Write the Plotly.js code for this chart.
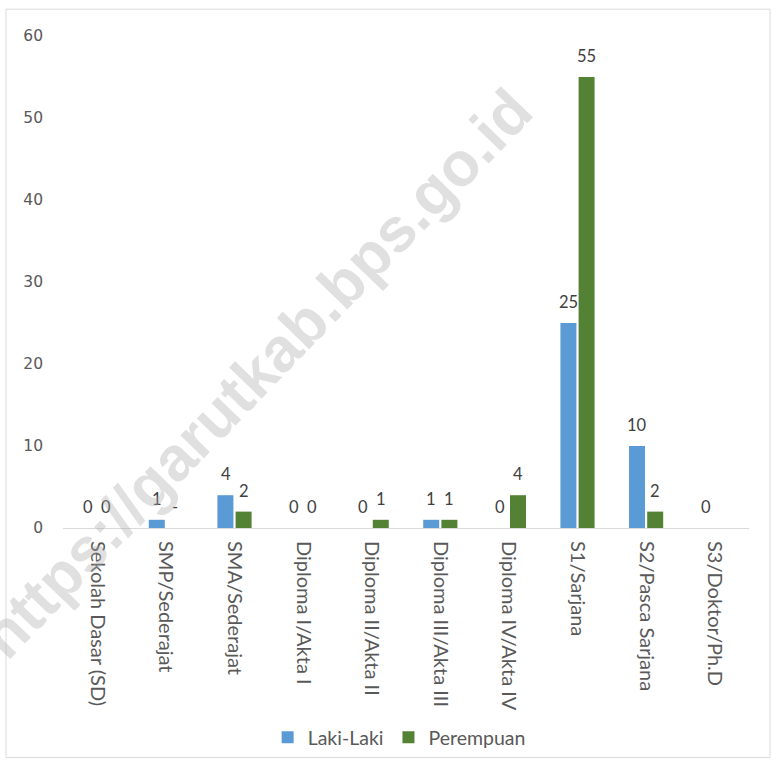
<!DOCTYPE html>
<html>
<head>
<meta charset="utf-8">
<script src="https://cdn.plot.ly/plotly-3.0.1.min.js"></script>
<style>
html,body{margin:0;padding:0;background:#fff;}
#chart{width:777px;height:769px;}
</style>
</head>
<body>
<div id="chart"></div>
<script>
const categories = ["Sekolah Dasar (SD)", "SMP/Sederajat", "SMA/Sederajat", "Diploma I/Akta I", "Diploma II/Akta II", "Diploma III/Akta III", "Diploma IV/Akta IV", "S1/Sarjana", "S2/Pasca Sarjana", "S3/Doktor/Ph.D"];
const lakiValues = [0, 1, 4, 0, 0, 1, 0, 25, 10, 0];
const lakiLabels = ["0", "1", "4", "0", "0", "1", "0", "25", "10", "0"];
const perempuanValues = [0, null, 2, 0, 1, 1, 4, 55, 2, null];
const perempuanLabels = ["0", "-", "2", "0", "1", "1", "4", "55", "2", ""];
const yTicks = [0, 10, 20, 30, 40, 50, 60];

const FONT = "Lato, 'Open Sans', 'Liberation Sans', sans-serif";

const traces = [
  {
    type: "bar", name: "Laki-Laki", x: categories, y: lakiValues,
    marker: {color: "#5B9BD5"}, hoverinfo: "x+y"
  },
  {
    type: "bar", name: "Perempuan", x: categories, y: perempuanValues,
    marker: {color: "#548235"}, hoverinfo: "x+y"
  }
];

// data labels, placed through the axes' scales
const labelAnnotations = [];
function addLabels(values, labels, shift) {
  categories.forEach((c, i) => {
    if (labels[i] === "") return;
    labelAnnotations.push({
      x: c, y: values[i] === null ? 0 : values[i], xref: "x", yref: "y",
      text: labels[i], showarrow: false, xshift: shift, yshift: 21,
      xanchor: "center", yanchor: "middle",
      font: {family: FONT, size: 16.5, color: "#404040"}
    });
  });
}
addLabels(lakiValues, lakiLabels, -9);
addLabels(perempuanValues, perempuanLabels, 9);

const layout = {
  width: 777, height: 769,
  margin: {l: 63, r: 28, t: 36, b: 238},
  paper_bgcolor: "#ffffff", plot_bgcolor: "#ffffff",
  font: {family: FONT, size: 18, color: "#595959"},
  barmode: "group", bargap: 0.47, bargroupgap: 0.12,
  showlegend: true,
  legend: {orientation: "h", x: 0.49, y: -0.426, xanchor: "center", yanchor: "middle",
           font: {family: FONT, size: 19.5, color: "#595959"}, itemwidth: 30, traceorder: "normal"},
  xaxis: {
    type: "category", tickangle: 90, showline: true, linecolor: "#d9d9d9", linewidth: 1,
    ticks: "", showgrid: false, zeroline: false, ticklabelstandoff: 8,
    tickfont: {family: FONT, size: 20, color: "#595959"}, fixedrange: true
  },
  yaxis: {
    range: [0, 60], tickvals: yTicks, ticktext: yTicks.map(String),
    showgrid: false, zeroline: false, showline: false, ticks: "",
    ticklabelstandoff: 19,
    tickfont: {family: "'DejaVu Sans', Verdana, sans-serif", size: 15.5, color: "#595959"}, fixedrange: true
  },
  shapes: [
    {type: "rect", xref: "paper", yref: "paper",
     x0: (6 - 63) / 686, x1: (770 - 63) / 686, y0: (531 - 762) / 495, y1: (531 - 9) / 495,
     line: {color: "#d9d9d9", width: 1}, fillcolor: "rgba(0,0,0,0)", layer: "below"}
  ],
  annotations: labelAnnotations.concat([
    {text: "<b>https://garutkab.bps.go.id</b>", xref: "paper", yref: "paper",
     x: (256 - 63) / 686, y: (531 - 376) / 495, xanchor: "center", yanchor: "middle",
     showarrow: false, textangle: -46,
     font: {family: "'Liberation Sans', Arial, sans-serif", size: 62, color: "rgba(170,170,170,0.36)"}}
  ])
};

Plotly.newPlot("chart", traces, layout, {displayModeBar: false, staticPlot: true});
</script>
</body>
</html>
